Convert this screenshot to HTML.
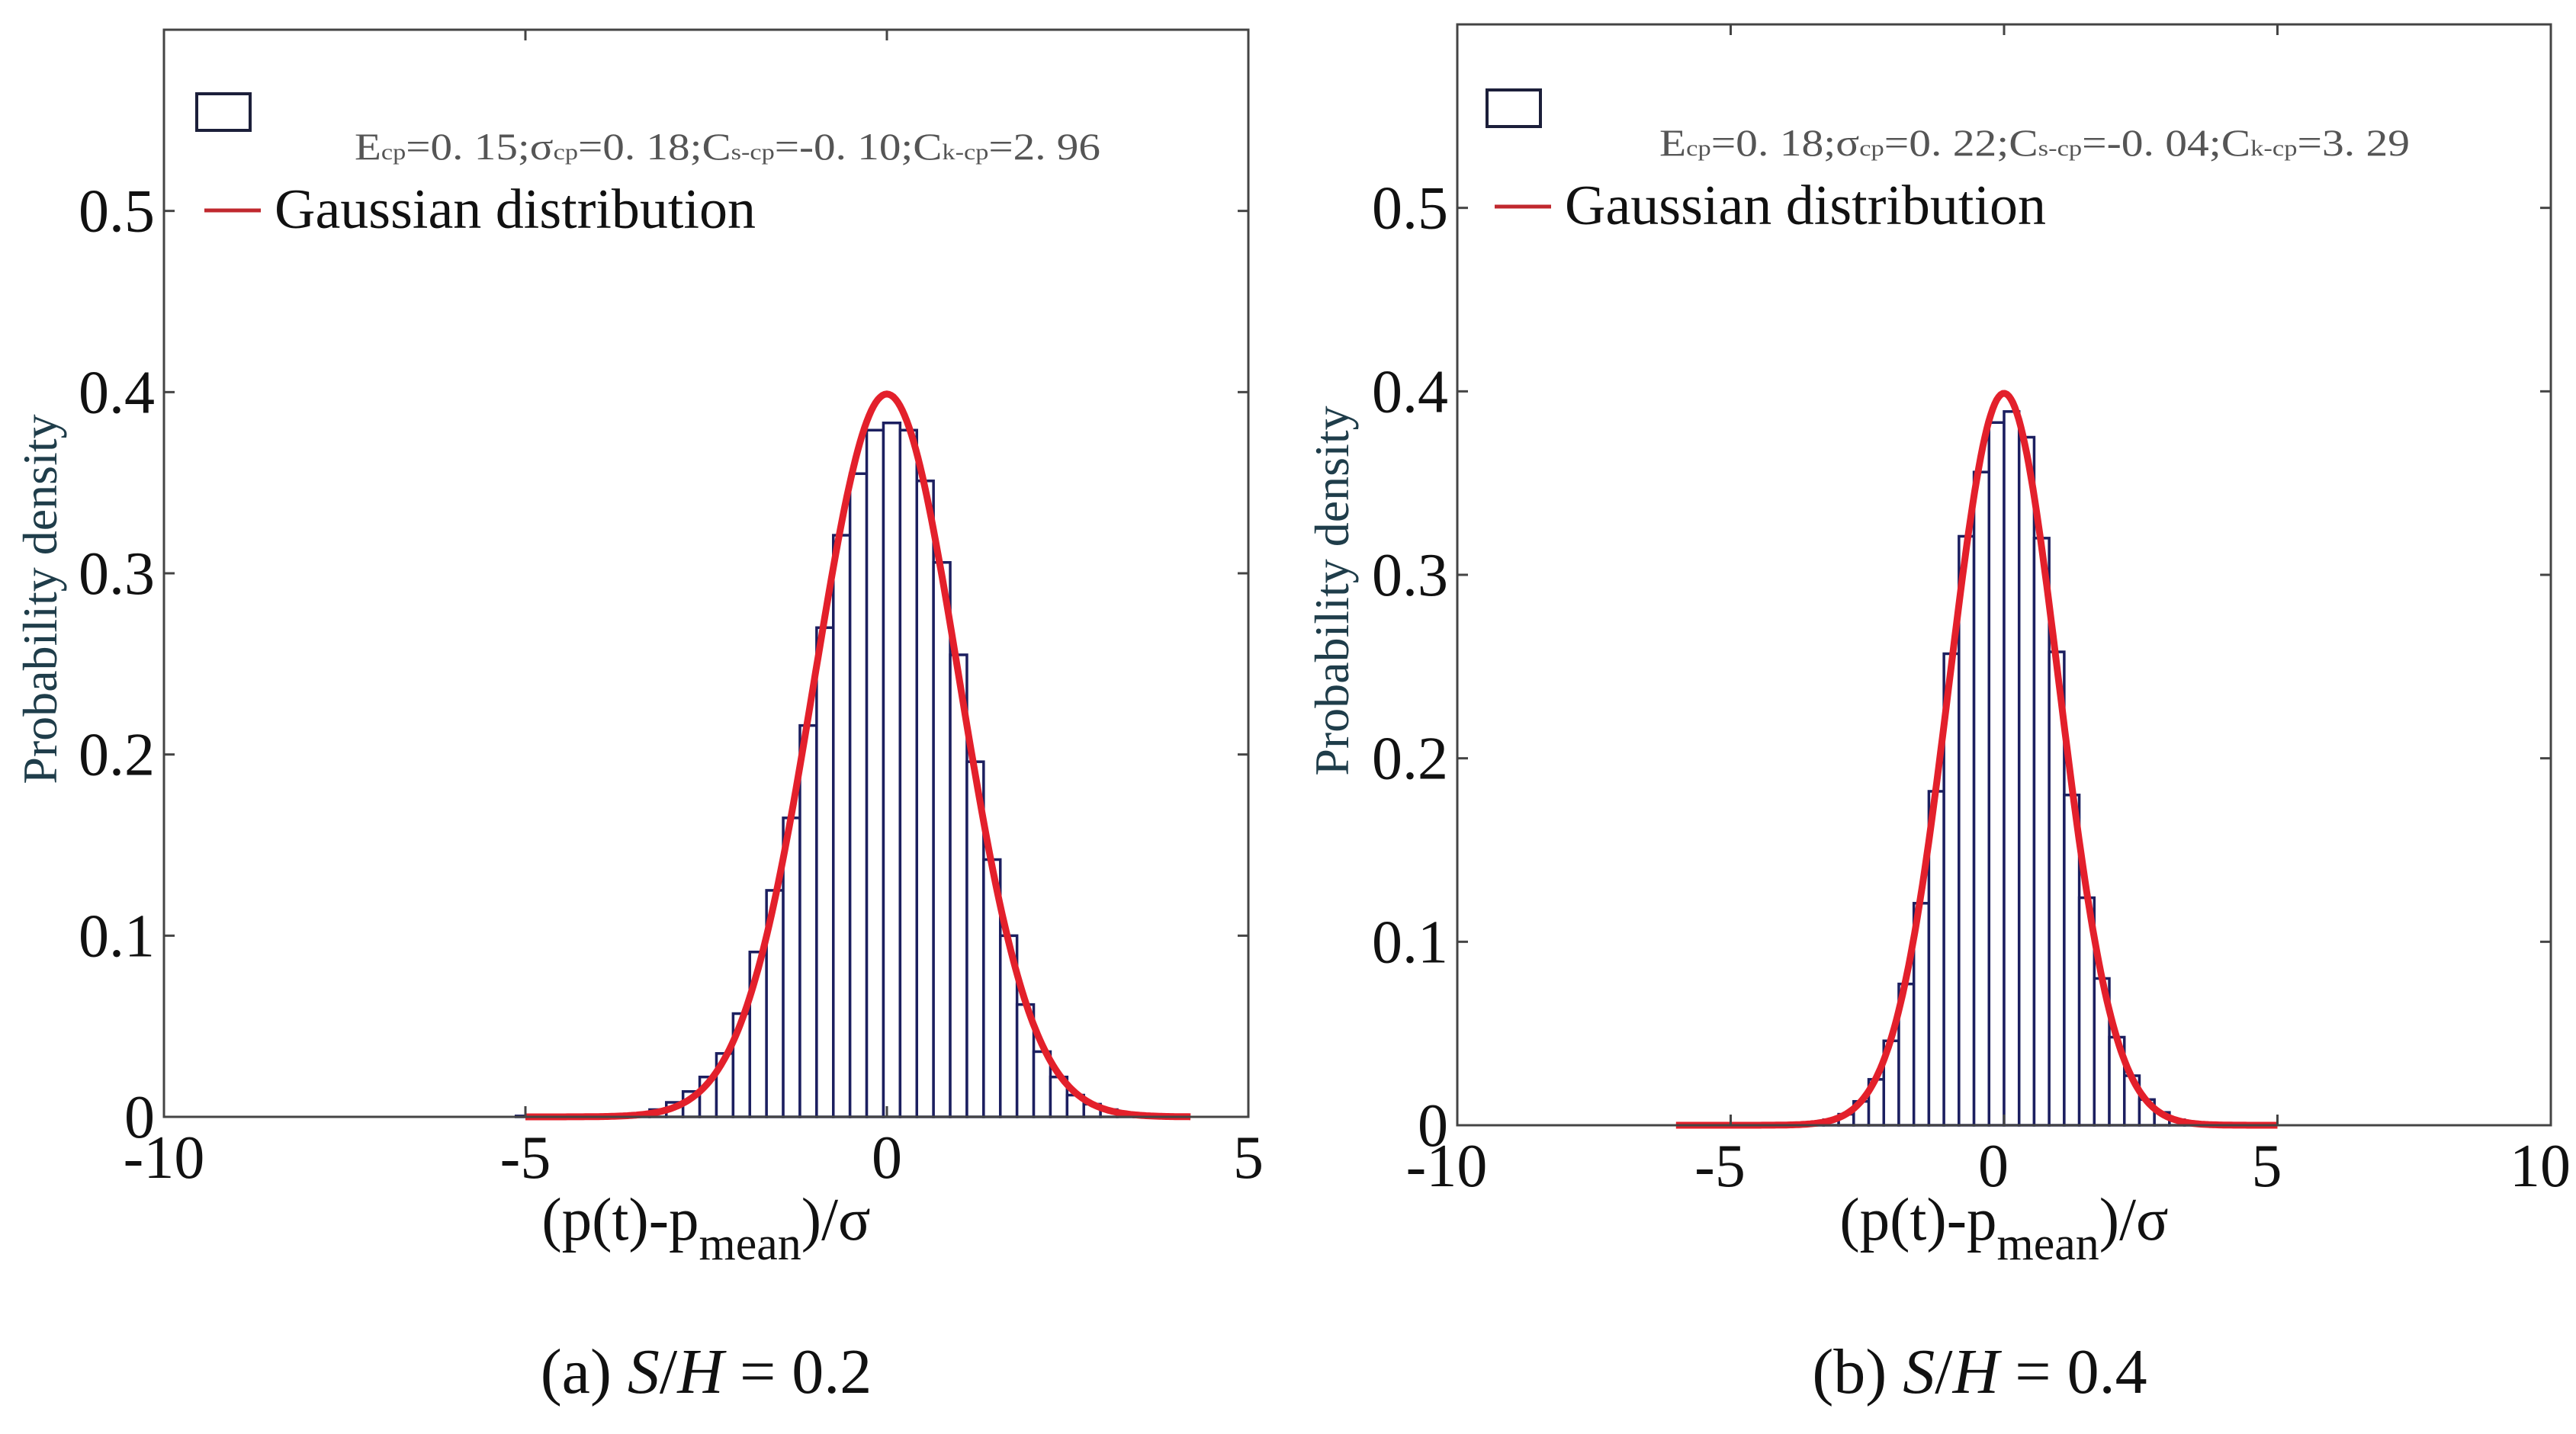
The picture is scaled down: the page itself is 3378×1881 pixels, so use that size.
<!DOCTYPE html>
<html><head><meta charset="utf-8"><style>
html,body{margin:0;padding:0;background:#fff;}
svg{display:block;}
text{font-family:"Liberation Serif",serif;}
</style></head><body>
<svg id="fig" width="3378" height="1881" viewBox="0 0 3378 1881" xmlns="http://www.w3.org/2000/svg">
<g id="panelA"></g>
<g id="panelB"></g>
<text x="926" y="1827" font-size="84" text-anchor="middle" fill="#111">(a) <tspan font-style="italic">S</tspan>/<tspan font-style="italic">H</tspan> = 0.2</text>
<text x="2596" y="1827" font-size="84" text-anchor="middle" fill="#111">(b) <tspan font-style="italic">S</tspan>/<tspan font-style="italic">H</tspan> = 0.4</text>
</svg>
<script>
// ---- data ----
const xTicksA = [-10, -5, 0, 5];
const xTicksB = [-10, -5, 0, 5, 10];
const yTicks = [0, 0.1, 0.2, 0.3, 0.4, 0.5];
const yTickLabels = ["0", "0.1", "0.2", "0.3", "0.4", "0.5"];
const binStartA = -5.13;
const binWidthA = 0.231;
const heightsA = [0.0005,0.0005,0.0005,0.001,0.001,0.001,0.001,0.002,0.004,0.008,0.014,0.022,0.035,0.057,0.091,0.125,0.165,0.216,0.270,0.321,0.355,0.379,0.383,0.379,0.351,0.306,0.255,0.196,0.142,0.100,0.062,0.036,0.022,0.012,0.007,0.004,0.002,0.001,0.001,0.0005];
const binStartB = -3.575;
const binWidthB = 0.275;
const heightsB = [0.001,0.003,0.006,0.013,0.025,0.046,0.077,0.121,0.182,0.257,0.321,0.356,0.383,0.389,0.375,0.320,0.258,0.180,0.124,0.080,0.048,0.027,0.014,0.007,0.003,0.001];
const gaussMu = [0, 0];
const gaussSigma = [1, 1];
const curveRangeA = [-5, 4.2];
const curveRangeB = [-6, 5];

const NS = "http://www.w3.org/2000/svg";
function mk(tag, attrs, parent){
  const e = document.createElementNS(NS, tag);
  for (const k in attrs) e.setAttribute(k, attrs[k]);
  parent.appendChild(e);
  return e;
}

function drawPanel(g, cfg){
  const sx = v => cfg.x0 + (v - cfg.xmin) / (cfg.xmax - cfg.xmin) * (cfg.x1 - cfg.x0);
  const sy = v => cfg.y0 - v / cfg.ymax * (cfg.y0 - cfg.y1);
  const bars = mk("g", {}, g);
  
  
  cfg.heights.forEach((h, i) => {
    const a = cfg.binStart + i * cfg.binWidth;
    const r = mk("rect", {x: sx(a), y: sy(h), width: sx(a + cfg.binWidth) - sx(a), height: sy(0) - sy(h), fill: "#fff", stroke: "#1c1f60", "stroke-width": 3.5}, bars);
    
    
  });
  let d = "";
  const n = 300;
  for (let k = 0; k <= n; k++){
    const x = cfg.curveRange[0] + (cfg.curveRange[1] - cfg.curveRange[0]) * k / n;
    const y = Math.exp(-0.5 * Math.pow((x - cfg.mu) / cfg.sigma, 2)) / (cfg.sigma * Math.sqrt(2 * Math.PI));
    d += (k ? "L" : "M") + sx(x).toFixed(1) + "," + sy(y).toFixed(1);
  }
  const c = mk("path", {d: d, fill: "none", stroke: "#e3202b", "stroke-width": 9, "stroke-linejoin": "round"}, g);
  
  
  const box = mk("rect", {x: cfg.x0, y: cfg.y1, width: cfg.x1 - cfg.x0, height: cfg.y0 - cfg.y1, fill: "none", stroke: "#444", "stroke-width": 3}, g);
  
  
  yTicks.forEach((v, i) => {
    const y = sy(v);
    mk("line", {x1: cfg.x0, x2: cfg.x0 + 14, y1: y, y2: y, stroke: "#444", "stroke-width": 3}, g);
    mk("line", {x1: cfg.x1, x2: cfg.x1 - 14, y1: y, y2: y, stroke: "#444", "stroke-width": 3}, g);
    const t = mk("text", {x: cfg.x0 - 12, y: y + 27, "font-size": 80, "text-anchor": "end", fill: "#111"}, g);
    t.textContent = yTickLabels[i];
    
    
  });
  cfg.xTicks.forEach(v => {
    const x = sx(v);
    mk("line", {x1: x, x2: x, y1: cfg.y0, y2: cfg.y0 - 14, stroke: "#444", "stroke-width": 3}, g);
    mk("line", {x1: x, x2: x, y1: cfg.y1, y2: cfg.y1 + 14, stroke: "#444", "stroke-width": 3}, g);
    const t = mk("text", {x: x + cfg.xLabelShift, y: cfg.y0 + 80, "font-size": 80, "text-anchor": "middle", fill: "#111"}, g);
    t.textContent = String(v);
    
    
  });
  const xt = mk("text", {x: cfg.xTitleX, y: 1626, "font-size": 79, "text-anchor": "middle", fill: "#111"}, g);
  xt.innerHTML = '(p(t)-p<tspan font-size="62" dy="26">mean</tspan><tspan dy="-26">)/σ</tspan>';
  
  
  const yt = mk("text", {x: 0, y: 0, "font-size": 64, "text-anchor": "middle", fill: "#1f3d4a", transform: "translate(" + cfg.yTitleX + "," + cfg.yTitleY + ") rotate(-90)"}, g);
  yt.textContent = "Probability density";
  
  
  const lg = mk("g", {}, g);
  
  
  const lb = mk("rect", {x: cfg.lx, y: cfg.ly, width: 70, height: 48, fill: "#fff", stroke: "#1c1f3a", "stroke-width": 4}, lg);
  
  
  const st = mk("text", {x: cfg.statX, y: cfg.ly + 86, "font-size": 50, fill: "#555", textLength: cfg.statW, lengthAdjust: "spacingAndGlyphs"}, lg);
  st.innerHTML = cfg.stats;
  
  
  const ll = mk("line", {x1: cfg.lx + 10, x2: cfg.lx + 84, y1: cfg.ly + 153, y2: cfg.ly + 153, stroke: "#c0282e", "stroke-width": 5}, lg);
  
  
  const lt = mk("text", {x: cfg.lx + 102, y: cfg.ly + 176, "font-size": 74, fill: "#111"}, lg);
  lt.textContent = "Gaussian distribution";
  
  
}

drawPanel(document.getElementById("panelA"), {
  x0: 215, x1: 1637, y0: 1465, y1: 39, xmin: -10, xmax: 5, ymax: 0.6, xLabelShift: 0,
  xTicks: xTicksA, binStart: binStartA, binWidth: binWidthA, heights: heightsA,
  mu: gaussMu[0], sigma: gaussSigma[0], curveRange: curveRangeA,
  xTitleX: 926, yTitleX: 74, yTitleY: 786, lx: 258, ly: 123, statX: 465, statW: 978,
  stats: 'E<tspan font-size="30">cp</tspan>=0. 15;σ<tspan font-size="30">cp</tspan>=0. 18;C<tspan font-size="30">s-cp</tspan>=-0. 10;C<tspan font-size="30">k-cp</tspan>=2. 96'
});
drawPanel(document.getElementById("panelB"), {
  x0: 1911, x1: 3345, y0: 1476, y1: 32, xmin: -10, xmax: 10, ymax: 0.6, xLabelShift: -14,
  xTicks: xTicksB, binStart: binStartB, binWidth: binWidthB, heights: heightsB,
  mu: gaussMu[1], sigma: gaussSigma[1], curveRange: curveRangeB,
  xTitleX: 2628, yTitleX: 1768, yTitleY: 775, lx: 1950, ly: 118, statX: 2176, statW: 984,
  stats: 'E<tspan font-size="30">cp</tspan>=0. 18;σ<tspan font-size="30">cp</tspan>=0. 22;C<tspan font-size="30">s-cp</tspan>=-0. 04;C<tspan font-size="30">k-cp</tspan>=3. 29'
});
</script>
</body></html>
